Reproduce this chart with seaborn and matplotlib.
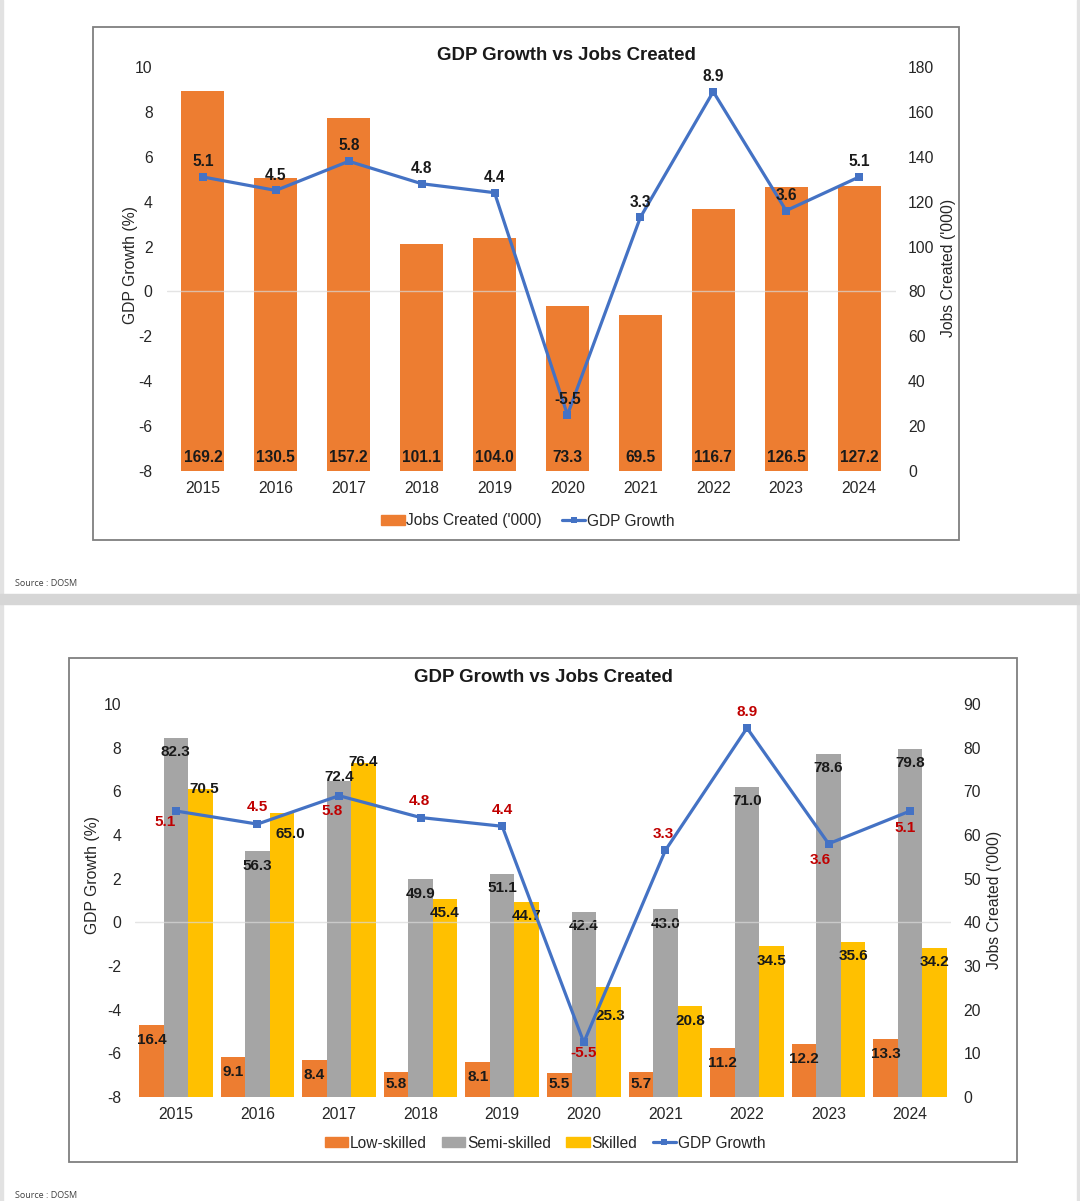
import numpy as np
import pandas as pd
import matplotlib.pyplot as plt
import seaborn as sns
from matplotlib.patches import Patch, Rectangle
from matplotlib.lines import Line2D

# data
years = ['2015', '2016', '2017', '2018', '2019', '2020', '2021', '2022', '2023', '2024']
gdp_growth = [5.1, 4.5, 5.8, 4.8, 4.4, -5.5, 3.3, 8.9, 3.6, 5.1]
jobs_total = [169.2, 130.5, 157.2, 101.1, 104.0, 73.3, 69.5, 116.7, 126.5, 127.2]
low_skilled = [16.4, 9.1, 8.4, 5.8, 8.1, 5.5, 5.7, 11.2, 12.2, 13.3]
semi_skilled = [82.3, 56.3, 72.4, 49.9, 51.1, 42.4, 43.0, 71.0, 78.6, 79.8]
skilled = [70.5, 65.0, 76.4, 45.4, 44.7, 25.3, 20.8, 34.5, 35.6, 34.2]
skill_names = ['Low-skilled', 'Semi-skilled', 'Skilled']

ORANGE = '#ED7D31'
GREY = '#A5A5A5'
YELLOW = '#FFC000'
BLUE = '#4472C4'
RED = '#C00000'
TXT = '#262626'

sns.set_style('white')
plt.rcParams['font.family'] = ['Liberation Sans', 'DejaVu Sans']
plt.rcParams['axes.unicode_minus'] = False

W, H = 1080, 1201
fig = plt.figure(figsize=(W / 100, H / 100), dpi=100)


def px_rect(l, t, r, b):
    return [l / W, 1 - b / H, (r - l) / W, (b - t) / H]


def fx(x):
    return x / W


def fy(y):
    return 1 - y / H


# page decoration: side strips, grey gap between the two slides, chart frames
for rect in [(0, 0, 3 / W, 1, '#e2e2e2'), (1 - 3 / W, 0, 3 / W, 1, '#e2e2e2'),
             (0, fy(604), 1, 10 / H, '#d6d6d6')]:
    fig.patches.append(Rectangle(rect[:2], rect[2], rect[3], color=rect[4],
                                 transform=fig.transFigure, zorder=0))
for l, t, r, b in [(93, 27, 959, 540), (69, 658, 1017, 1162)]:
    fig.patches.append(Rectangle((fx(l), fy(b)), (r - l) / W, (b - t) / H, fill=False,
                                 edgecolor='#7f7f7f', lw=1.3, transform=fig.transFigure))


def style(ax_bar, ax_line, bar_max, bar_step):
    ax_bar.set_ylim(0, bar_max)
    ax_bar.set_yticks(np.arange(0, bar_max + 1, bar_step))
    ax_bar.yaxis.tick_right()
    ax_line.yaxis.tick_left()
    ax_line.set_ylim(-8, 10)
    ax_line.set_yticks(np.arange(-8, 11, 2))
    ax_bar.set_xlim(-0.5, 9.5)
    for a in (ax_bar, ax_line):
        for s in a.spines.values():
            s.set_visible(False)
        a.set_xlabel('')
        a.set_ylabel('')
    ax_bar.tick_params(axis='y', length=0, labelsize=11.3, labelcolor=TXT, pad=9)
    ax_bar.tick_params(axis='x', length=0, labelsize=11.3, labelcolor=TXT, pad=7)
    ax_line.tick_params(axis='y', length=0, labelsize=11.3, labelcolor=TXT, pad=10)
    ax_line.axhline(0, color='#d9d9d9', lw=1, alpha=0.7, zorder=0)


# ---------------- top chart ----------------
ax1 = fig.add_axes(px_rect(166.5, 67, 895.5, 471))
sns.barplot(x=years, y=jobs_total, color=ORANGE, saturation=1, width=0.59,
            linewidth=0, ax=ax1)
ax1l = ax1.twinx()
sns.lineplot(x=list(range(len(years))), y=gdp_growth, color=BLUE, lw=2.3, marker='s',
             markersize=6, markeredgewidth=0, ax=ax1l)
style(ax1, ax1l, 180, 20)

for bar, v in zip(ax1.containers[0], jobs_total):
    ax1.annotate(f'{v:.1f}', (bar.get_x() + bar.get_width() / 2, 0), xytext=(0, 9.5),
                 textcoords='offset points', ha='center', va='center',
                 fontsize=11.2, fontweight='bold', color='#1a1a1a')
for i, g in enumerate(gdp_growth):
    ax1l.annotate(f'{g:.1f}', (i, g), xytext=(0, 11), textcoords='offset points',
                  ha='center', va='center', fontsize=11.2, fontweight='bold', color='#1a1a1a')

fig.text(fx(566), fy(55), 'GDP Growth vs Jobs Created', ha='center', va='center',
         fontsize=13.4, fontweight='bold', color='#1a1a1a')
fig.text(fx(131), fy(265), 'GDP Growth (%)', rotation=90, ha='center', va='center',
         fontsize=11.3, color=TXT)
fig.text(fx(948), fy(268), "Jobs Created ('000)", rotation=90, ha='center', va='center',
         fontsize=11.3, color=TXT)
fig.legend(handles=[Patch(color=ORANGE, label="Jobs Created ('000)"),
                    Line2D([], [], color=BLUE, lw=2.3, marker='s', markersize=5,
                           markeredgewidth=0, label='GDP Growth')],
           loc='center', bbox_to_anchor=(fx(528), fy(521)), ncol=2, frameon=False,
           fontsize=11.2, handlelength=1.5, handleheight=0.6, handletextpad=0.1,
           columnspacing=1.3, labelcolor=TXT)
fig.text(fx(15), fy(583), 'Source : DOSM', ha='left', va='center', fontsize=6.5,
         color='#404040', family=['Open Sans', 'DejaVu Sans'])

# ---------------- bottom chart ----------------
df = pd.DataFrame({'Year': years * 3,
                   'Skill': np.repeat(skill_names, len(years)),
                   'Jobs': low_skilled + semi_skilled + skilled})

ax2 = fig.add_axes(px_rect(135, 704, 951, 1097))
sns.barplot(data=df, x='Year', y='Jobs', hue='Skill', palette=[ORANGE, GREY, YELLOW],
            saturation=1, width=0.9, errorbar=None, legend=False, linewidth=0, ax=ax2)
ax2l = ax2.twinx()
sns.lineplot(x=list(range(len(years))), y=gdp_growth, color=BLUE, lw=2.3, marker='s',
             markersize=6, markeredgewidth=0, ax=ax2l)
style(ax2, ax2l, 90, 10)

# label offsets in points (dx, dy) relative to bar tops, a few moved as in the slide
default_off = {'Low-skilled': (0, -10.8), 'Semi-skilled': (0, -10.4), 'Skilled': (0, -10.4)}
special_off = {('Semi-skilled', 2): (0, 2.9),
               ('Skilled', 0): (3, 0), ('Skilled', 1): (5.8, -15),
               ('Skilled', 2): (0, 0.7), ('Skilled', 5): (1.5, -21),
               ('Low-skilled', 3): (0, -8.6), ('Low-skilled', 5): (0, -8),
               ('Low-skilled', 6): (0, -8.6)}
for name, cont, vals in zip(skill_names, ax2.containers, [low_skilled, semi_skilled, skilled]):
    for i, (bar, v) in enumerate(zip(cont, vals)):
        off = special_off.get((name, i), default_off[name])
        ax2.annotate(f'{v:.1f}', (bar.get_x() + bar.get_width() / 2, bar.get_height()),
                     xytext=off, textcoords='offset points', ha='center', va='center',
                     fontsize=11, fontweight='bold', color='#1a1a1a')

gdp_off = [(-8, -8), (0, 12), (-5, -11), (-1, 12), (0, 12),
           (0, -7.5), (-1.5, 11.5), (0, 11.5), (-6, -11.5), (-3.5, -12)]
for i, (g, off) in enumerate(zip(gdp_growth, gdp_off)):
    ax2l.annotate(f'{g:.1f}', (i, g), xytext=off, textcoords='offset points',
                  ha='center', va='center', fontsize=11, fontweight='bold', color=RED)

fig.text(fx(543), fy(678), 'GDP Growth vs Jobs Created', ha='center', va='center',
         fontsize=13.4, fontweight='bold', color='#1a1a1a')
fig.text(fx(93), fy(875), 'GDP Growth (%)', rotation=90, ha='center', va='center',
         fontsize=11.3, color=TXT)
fig.text(fx(995), fy(900), "Jobs Created ('000)", rotation=90, ha='center', va='center',
         fontsize=11.3, color=TXT)
fig.legend(handles=[Patch(color=ORANGE, label='Low-skilled'),
                    Patch(color=GREY, label='Semi-skilled'),
                    Patch(color=YELLOW, label='Skilled'),
                    Line2D([], [], color=BLUE, lw=2.3, marker='s', markersize=5,
                           markeredgewidth=0, label='GDP Growth')],
           loc='center', bbox_to_anchor=(fx(545), fy(1143)), ncol=4, frameon=False,
           fontsize=11.2, handlelength=1.5, handleheight=0.6, handletextpad=0.1,
           columnspacing=1.0, labelcolor=TXT)
fig.text(fx(15), fy(1195), 'Source : DOSM', ha='left', va='center', fontsize=6.5,
         color='#404040', family=['Open Sans', 'DejaVu Sans'])

fig.savefig('out.png', dpi=100)
